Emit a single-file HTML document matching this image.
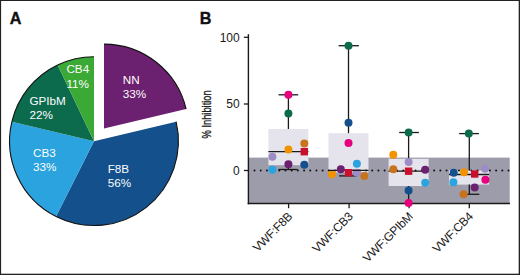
<!DOCTYPE html>
<html><head><meta charset="utf-8"><style>
html,body{margin:0;padding:0;background:#fff;}
body{width:520px;height:275px;overflow:hidden;position:relative;}
svg{position:absolute;left:0;top:0;display:block;}
text{font-family:"Liberation Sans",sans-serif;}
.pl{font-size:11.7px;fill:#fdfdfd;}
.ax{font-size:12px;fill:#1a1a1a;}
.hd{font-size:16.2px;font-weight:bold;fill:#111;stroke:#111;stroke-width:0.35px;}
.yl{font-size:13.5px;fill:#1a1a1a;stroke:#1a1a1a;stroke-width:0.3px;}
.xl{font-size:12px;fill:#1a1a1a;letter-spacing:-0.3px;}
</style></head><body>
<svg width="520" height="275" viewBox="0 0 520 275">
<rect x="0" y="0" width="520" height="275" fill="#fff"/>
<path d="M103.98,128.52 L103.98,44.12 A84.4,84.4 0 0 1 186.10,109.02 Z" fill="#6b2070"/>
<path d="M94.00,141.15 L176.12,121.66 A84.4,84.4 0 0 1 56.06,216.54 Z" fill="#13508c"/>
<path d="M94.00,141.15 L56.06,216.54 A84.4,84.4 0 0 1 11.88,121.66 Z" fill="#2ba3de"/>
<path d="M94.00,141.15 L11.88,121.66 A84.4,84.4 0 0 1 57.60,65.00 Z" fill="#0c6b4d"/>
<path d="M94.00,141.15 L57.60,65.00 A84.4,84.4 0 0 1 94.00,56.75 Z" fill="#3aa935"/>
<path d="M103.98,44.12 A84.4,84.4 0 0 1 186.10,109.02" fill="none" stroke="#111" stroke-width="1.1"/>
<path d="M176.12,121.66 A84.4,84.4 0 0 1 56.06,216.54" fill="none" stroke="#111" stroke-width="1.1"/>
<path d="M56.06,216.54 A84.4,84.4 0 0 1 11.88,121.66" fill="none" stroke="#111" stroke-width="1.1"/>
<path d="M11.88,121.66 A84.4,84.4 0 0 1 57.60,65.00" fill="none" stroke="#111" stroke-width="1.1"/>
<path d="M57.60,65.00 A84.4,84.4 0 0 1 94.00,56.75" fill="none" stroke="#111" stroke-width="1.1"/>
<text x="66.4" y="73.1" class="pl">CB4</text><text x="66.4" y="87.69999999999999" class="pl">11%</text>
<text x="29.4" y="104.8" class="pl">GPIbM</text><text x="29.4" y="118.8" class="pl">22%</text>
<text x="33.0" y="157.0" class="pl">CB3</text><text x="33.0" y="171.0" class="pl">33%</text>
<text x="107.7" y="172.9" class="pl">F8B</text><text x="107.7" y="187.4" class="pl">56%</text>
<text x="122.8" y="83.5" class="pl">NN</text><text x="122.8" y="97.5" class="pl">33%</text>
<rect x="248.4" y="157.6" width="261.3" height="46.1" fill="#9c9caa"/>
<rect x="268.4" y="129" width="40" height="36.19999999999999" fill="#e5e4ec"/>
<rect x="328.5" y="133.2" width="40" height="39.30000000000001" fill="#e5e4ec"/>
<rect x="388.6" y="158.8" width="40" height="27.19999999999999" fill="#e5e4ec"/>
<rect x="449.0" y="170.5" width="40" height="14.099999999999994" fill="#e5e4ec"/>
<line x1="254.5" y1="170.6" x2="509.3" y2="170.6" stroke="#111" stroke-width="2" stroke-dasharray="0.01 6.185" stroke-linecap="round"/>
<line x1="248.4" y1="34.2" x2="248.4" y2="204.3" stroke="#1a1a1a" stroke-width="1.4"/>
<line x1="247.7" y1="203.5" x2="510" y2="203.5" stroke="#1a1a1a" stroke-width="1.5"/>
<line x1="243.9" y1="37.3" x2="248.4" y2="37.3" stroke="#1a1a1a" stroke-width="1.3"/>
<line x1="243.9" y1="104" x2="248.4" y2="104" stroke="#1a1a1a" stroke-width="1.3"/>
<line x1="243.9" y1="170.5" x2="248.4" y2="170.5" stroke="#1a1a1a" stroke-width="1.3"/>
<line x1="288.6" y1="203.7" x2="288.6" y2="208.2" stroke="#1a1a1a" stroke-width="1.3"/>
<line x1="349.1" y1="203.7" x2="349.1" y2="208.2" stroke="#1a1a1a" stroke-width="1.3"/>
<line x1="409.1" y1="203.7" x2="409.1" y2="208.2" stroke="#1a1a1a" stroke-width="1.3"/>
<line x1="469.3" y1="203.7" x2="469.3" y2="208.2" stroke="#1a1a1a" stroke-width="1.3"/>
<line x1="288.4" y1="94.8" x2="288.4" y2="129" stroke="#1a1a1a" stroke-width="1.3"/>
<line x1="278.6" y1="94.8" x2="298.2" y2="94.8" stroke="#1a1a1a" stroke-width="1.3"/>
<line x1="278.4" y1="169.5" x2="297.5" y2="169.5" stroke="#1a1a1a" stroke-width="1.3"/>
<line x1="288.4" y1="165.2" x2="288.4" y2="169.5" stroke="#1a1a1a" stroke-width="1.3"/>
<line x1="268.4" y1="151.7" x2="308.4" y2="151.7" stroke="#1a1a1a" stroke-width="1.3"/>
<circle cx="272.4" cy="169.8" r="4.0" fill="#2ba3de"/>
<circle cx="272.4" cy="156.7" r="4.0" fill="#9d8cc6"/>
<circle cx="288.4" cy="164.3" r="4.0" fill="#6b2070"/>
<circle cx="304.3" cy="164.8" r="4.0" fill="#13508c"/>
<circle cx="304.3" cy="143.6" r="4.0" fill="#c8731d"/>
<circle cx="288.4" cy="149.5" r="4.0" fill="#f39200"/>
<rect x="300.6" y="148.0" width="7.4" height="7.4" fill="#c8102e"/>
<circle cx="288.4" cy="113.4" r="4.0" fill="#0c6b4d"/>
<circle cx="288.4" cy="94.8" r="4.0" fill="#e6007e"/>
<line x1="348.5" y1="45.7" x2="348.5" y2="133.2" stroke="#1a1a1a" stroke-width="1.3"/>
<line x1="338.6" y1="45.7" x2="358.9" y2="45.7" stroke="#1a1a1a" stroke-width="1.3"/>
<line x1="339" y1="175.9" x2="357" y2="175.9" stroke="#1a1a1a" stroke-width="1.3"/>
<circle cx="332" cy="174.3" r="4.0" fill="#f39200"/>
<circle cx="364.3" cy="175.9" r="4.0" fill="#c8731d"/>
<circle cx="357" cy="172.7" r="4.0" fill="#9d8cc6"/>
<line x1="328.5" y1="170.4" x2="368.5" y2="170.4" stroke="#1a1a1a" stroke-width="1.3"/>
<rect x="344.8" y="169.0" width="7.4" height="7.4" fill="#c8102e"/>
<circle cx="340.8" cy="169.3" r="4.0" fill="#6b2070"/>
<circle cx="356.9" cy="163.7" r="4.0" fill="#2ba3de"/>
<circle cx="348.5" cy="143" r="4.0" fill="#e6007e"/>
<circle cx="348.5" cy="122.8" r="4.0" fill="#13508c"/>
<circle cx="348.5" cy="45.7" r="4.0" fill="#0c6b4d"/>
<line x1="408.6" y1="132.5" x2="408.6" y2="158.8" stroke="#1a1a1a" stroke-width="1.3"/>
<line x1="399.2" y1="132.5" x2="418.9" y2="132.5" stroke="#1a1a1a" stroke-width="1.3"/>
<line x1="408.6" y1="186" x2="408.6" y2="203.1" stroke="#1a1a1a" stroke-width="1.3"/>
<line x1="388.6" y1="171.2" x2="428.6" y2="171.2" stroke="#1a1a1a" stroke-width="1.3"/>
<circle cx="393.3" cy="154.8" r="4.0" fill="#f39200"/>
<circle cx="408.6" cy="162" r="4.0" fill="#9d8cc6"/>
<circle cx="393.3" cy="169.2" r="4.0" fill="#c8731d"/>
<rect x="404.90000000000003" y="167.5" width="7.4" height="7.4" fill="#c8102e"/>
<circle cx="425.2" cy="169.7" r="4.0" fill="#6b2070"/>
<circle cx="425.2" cy="182.8" r="4.0" fill="#2ba3de"/>
<circle cx="408.6" cy="190.4" r="4.0" fill="#13508c"/>
<circle cx="408.6" cy="203.1" r="4.0" fill="#e6007e"/>
<circle cx="408.6" cy="132.5" r="4.0" fill="#0c6b4d"/>
<line x1="469.3" y1="133.6" x2="469.3" y2="170.5" stroke="#1a1a1a" stroke-width="1.3"/>
<line x1="469.3" y1="184.6" x2="469.3" y2="194.3" stroke="#1a1a1a" stroke-width="1.3"/>
<line x1="459.2" y1="133.6" x2="478.9" y2="133.6" stroke="#1a1a1a" stroke-width="1.3"/>
<line x1="460" y1="194.3" x2="479.3" y2="194.3" stroke="#1a1a1a" stroke-width="1.3"/>
<line x1="449" y1="174.5" x2="489" y2="174.5" stroke="#1a1a1a" stroke-width="1.3"/>
<circle cx="485.1" cy="168.8" r="4.0" fill="#9d8cc6"/>
<circle cx="453.7" cy="172.8" r="4.0" fill="#13508c"/>
<circle cx="464" cy="172.3" r="4.0" fill="#f39200"/>
<rect x="471.0" y="170.3" width="7.4" height="7.4" fill="#c8102e"/>
<circle cx="453.4" cy="182.2" r="4.0" fill="#2ba3de"/>
<circle cx="485.4" cy="179.7" r="4.0" fill="#e6007e"/>
<circle cx="474.7" cy="187.6" r="4.0" fill="#6b2070"/>
<circle cx="463.6" cy="194.3" r="4.0" fill="#c8731d"/>
<circle cx="468.8" cy="133.6" r="4.0" fill="#0c6b4d"/>
<text class="ax" x="239.7" y="41.6" text-anchor="end">100</text>
<text class="ax" x="239.7" y="108.3" text-anchor="end">50</text>
<text class="ax" x="239.7" y="174.5" text-anchor="end">0</text>
<text class="yl" text-anchor="middle" transform="translate(210.6,114.4) rotate(-90) scale(0.69,1)">% Inhibition</text>
<text class="xl" text-anchor="end" transform="translate(293.0,217.3) rotate(-45)">VWF:F8B</text>
<text class="xl" text-anchor="end" transform="translate(353.5,217.3) rotate(-45)">VWF:CB3</text>
<text class="xl" text-anchor="end" transform="translate(413.5,217.3) rotate(-45)">VWF:GPIbM</text>
<text class="xl" text-anchor="end" transform="translate(473.7,217.3) rotate(-45)">VWF:CB4</text>
<text class="hd" x="9.8" y="24.4">A</text>
<text class="hd" x="199.8" y="24.4">B</text>
<rect x="0" y="0" width="520" height="1" fill="#222"/><rect x="0" y="0" width="1.1" height="275" fill="#222"/><rect x="518.7" y="0" width="1.3" height="275" fill="#222"/><rect x="0" y="273.7" width="520" height="1.3" fill="#222"/>
</svg>
</body></html>
